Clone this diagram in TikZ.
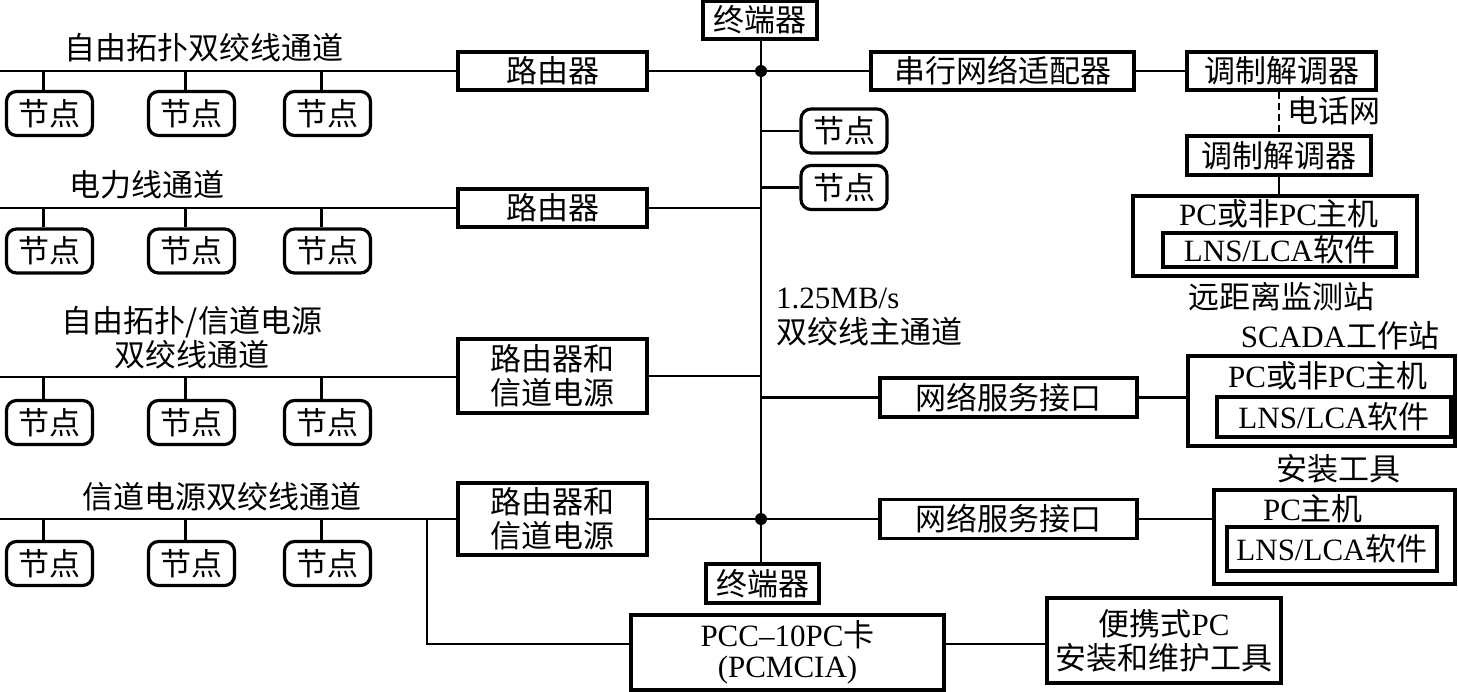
\documentclass[tikz,border=0pt]{standalone}
\usepackage{fontspec}
\setmainfont{Liberation Serif}
\newfontfamily\cjk{Noto Sans CJK SC}
\newcommand{\lat}[1]{{\rmfamily #1}}
\usetikzlibrary{positioning}

\begin{document}
\begin{tikzpicture}[x=1pt, y=-1pt,
  wire/.style={line width=2.2pt},
  dev/.style={draw, line width=3.6pt, fill=white, inner sep=0pt, align=center, font=\cjk\fontsize{31}{34}\selectfont},
  nd/.style={draw, line width=3.2pt, rounded corners=10pt, inner sep=0pt, minimum width=86pt, minimum height=44pt, font=\cjk\fontsize{31}{34}\selectfont},
  txt/.style={inner sep=0pt, align=center, font=\cjk\fontsize{31}{34}\selectfont}
]
  \useasboundingbox (0,0) rectangle (1458,691);

  % main channel
  \node[dev, minimum width=114pt, minimum height=38pt] (termtop) at (760,20) {终端器};
  \node[dev, minimum width=113pt, minimum height=39pt] (termbot) at (762.5,583.5) {终端器};
  \coordinate (j1) at (761,71);
  \coordinate (j2) at (761,519);
  \draw[wire] (termtop.south -| j1) -- (termbot.north -| j1);
  \fill (j1) circle (6pt);
  \fill (j2) circle (6pt);
  \node[txt, anchor=west, align=left, font=\cjk\fontsize{31}{35}\selectfont] (buslbl) at (776,317) {\lat{1.25MB/s}\\双绞线主通道};

  % routers
  \node[dev, minimum width=189pt, minimum height=38pt] (router1) at (552.5,71) {路由器};
  \node[dev, minimum width=189pt, minimum height=38pt] (router2) at (552.5,208) {路由器};
  \node[dev, minimum width=189pt, minimum height=74pt] (router3) at (552.5,376) {路由器和\\信道电源};
  \node[dev, minimum width=189pt, minimum height=72pt] (router4) at (552.5,519) {路由器和\\信道电源};

  % channel labels
  \node[txt] (ch1) at (204,48) {自由拓扑双绞线通道};
  \node[txt] (ch2) at (147,185) {电力线通道};
  \node[txt] (ch3) at (192,338) {自由拓扑/信道电源\\双绞线通道};
  \node[txt] (ch4) at (222,497) {信道电源双绞线通道};

  % channel lines
  \coordinate (l1) at (0,71);
  \coordinate (l2) at (0,208);
  \coordinate (l3) at (0,377);
  \coordinate (l4) at (0,519);
  \draw[wire] (l1) -- (router1.west);
  \draw[wire] (l2) -- (router2.west);
  \draw[wire] (l3) -- (l3 -| router3.west);
  \draw[wire] (l4) -- (router4.west);
  \draw[wire] (router1.east) -- (j1);
  \draw[wire] (router2.east) -- (router2.east -| j1);
  \draw[wire] (router3.east) -- (router3.east -| j1);
  \draw[wire] (router4.east) -- (j2);

  % nodes on the channels
  \node[nd] (n11) at (49.5,113.5) {节点};
  \node[nd] (n12) at (191.5,113.5) {节点};
  \node[nd] (n13) at (327.5,113.5) {节点};
  \node[nd] (n21) at (49.5,251) {节点};
  \node[nd] (n22) at (191.5,251) {节点};
  \node[nd] (n23) at (327.5,251) {节点};
  \node[nd] (n31) at (49.5,422.5) {节点};
  \node[nd] (n32) at (191.5,422.5) {节点};
  \node[nd] (n33) at (327.5,422.5) {节点};
  \node[nd] (n41) at (49.5,563.5) {节点};
  \node[nd] (n42) at (191.5,563.5) {节点};
  \node[nd] (n43) at (327.5,563.5) {节点};
  \draw[wire] ([xshift=-6pt]n11.north) -- ([xshift=-6pt]n11.north |- l1);
  \draw[wire] ([xshift=-6pt]n12.north) -- ([xshift=-6pt]n12.north |- l1);
  \draw[wire] ([xshift=-6pt]n13.north) -- ([xshift=-6pt]n13.north |- l1);
  \draw[wire] ([xshift=-6pt]n21.north) -- ([xshift=-6pt]n21.north |- l2);
  \draw[wire] ([xshift=-6pt]n22.north) -- ([xshift=-6pt]n22.north |- l2);
  \draw[wire] ([xshift=-6pt]n23.north) -- ([xshift=-6pt]n23.north |- l2);
  \draw[wire] ([xshift=-6pt]n31.north) -- ([xshift=-6pt]n31.north |- l3);
  \draw[wire] ([xshift=-6pt]n32.north) -- ([xshift=-6pt]n32.north |- l3);
  \draw[wire] ([xshift=-6pt]n33.north) -- ([xshift=-6pt]n33.north |- l3);
  \draw[wire] ([xshift=-6pt]n41.north) -- ([xshift=-6pt]n41.north |- l4);
  \draw[wire] ([xshift=-6pt]n42.north) -- ([xshift=-6pt]n42.north |- l4);
  \draw[wire] ([xshift=-6pt]n43.north) -- ([xshift=-6pt]n43.north |- l4);

  % nodes on the main channel
  \node[nd] (nb1) at (844,131) {节点};
  \node[nd] (nb2) at (844,187.5) {节点};
  \draw[wire] (nb1.west -| j1) -- (nb1.west);
  \draw[wire] (nb2.west -| j1) -- (nb2.west);

  % remote monitoring station
  \node[dev, minimum width=263pt, minimum height=38pt] (serial) at (1002.5,71) {串行网络适配器};
  \node[dev, minimum width=189pt, minimum height=38pt] (modem1) at (1281.5,71) {调制解调器};
  \node[dev, minimum width=184pt, minimum height=39pt] (modem2) at (1279,155.5) {调制解调器};
  \node[txt] (tel) at (1334,111) {电话网};
  \node[dev, minimum width=284pt, minimum height=80pt] (remote) at (1275,236) {};
  \node[txt] (remotepc) at (1279,214) {\lat{PC}或非\lat{PC}主机};
  \node[dev, line width=3.2pt, minimum width=233pt, minimum height=34pt] (remotesw) at (1279.5,250) {\lat{LNS/LCA}软件};
  \node[txt] (remotelbl) at (1281,297) {远距离监测站};
  \draw[wire] (j1) -- (serial.west);
  \draw[wire] (serial.east) -- (modem1.west);
  \draw[wire, dash pattern=on 7pt off 4pt] (modem2.north |- modem1.south) -- (modem2.north);
  \draw[wire] (modem2.south) -- (modem2.south |- remote.north);

  % SCADA workstation
  \node[dev, minimum width=257pt, minimum height=39pt] (nsi1) at (1008.5,397.5) {网络服务接口};
  \node[dev, minimum width=267pt, minimum height=90pt] (scada) at (1321.5,401) {};
  \node[txt] (scadapc) at (1328,376) {\lat{PC}或非\lat{PC}主机};
  \node[dev, line width=3.2pt, minimum width=234pt, minimum height=40pt] (scadasw) at (1334,417) {\lat{LNS/LCA}软件};
  \node[txt] (scadalbl) at (1340,336) {\lat{SCADA}工作站};
  \draw[wire] (nsi1.west -| j1) -- (nsi1.west);
  \draw[wire] (nsi1.east) -- (nsi1.east -| scada.west);

  % installation tool
  \node[dev, minimum width=257pt, minimum height=39pt] (nsi2) at (1008.5,519) {网络服务接口};
  \node[dev, minimum width=241pt, minimum height=94pt] (install) at (1334.5,537) {};
  \node[txt] (installpc) at (1313,509) {\lat{PC}主机};
  \node[dev, line width=3.2pt, minimum width=210pt, minimum height=44pt] (installsw) at (1332,549) {\lat{LNS/LCA}软件};
  \node[txt] (installlbl) at (1338,469) {安装工具};
  \draw[wire] (j2) -- (nsi2.west);
  \draw[wire] (nsi2.east) -- (nsi2.east -| install.west);

  % portable PC
  \node[dev, minimum width=313pt, minimum height=75pt, font=\cjk\fontsize{31}{31}\selectfont] (pcc) at (787.5,652.5) {\lat{PCC--10PC}卡\\\lat{(PCMCIA)}};
  \node[dev, minimum width=234pt, minimum height=85pt] (portable) at (1164,640.5) {便携式\lat{PC}\\安装和维护工具};
  \coordinate (br) at (427,519);
  \draw[wire] (br) |- ([yshift=8.5pt]pcc.west);
  \draw[wire] ([yshift=8.5pt]pcc.east) -- ([yshift=8.5pt]pcc.east -| portable.west);
\end{tikzpicture}
\end{document}
